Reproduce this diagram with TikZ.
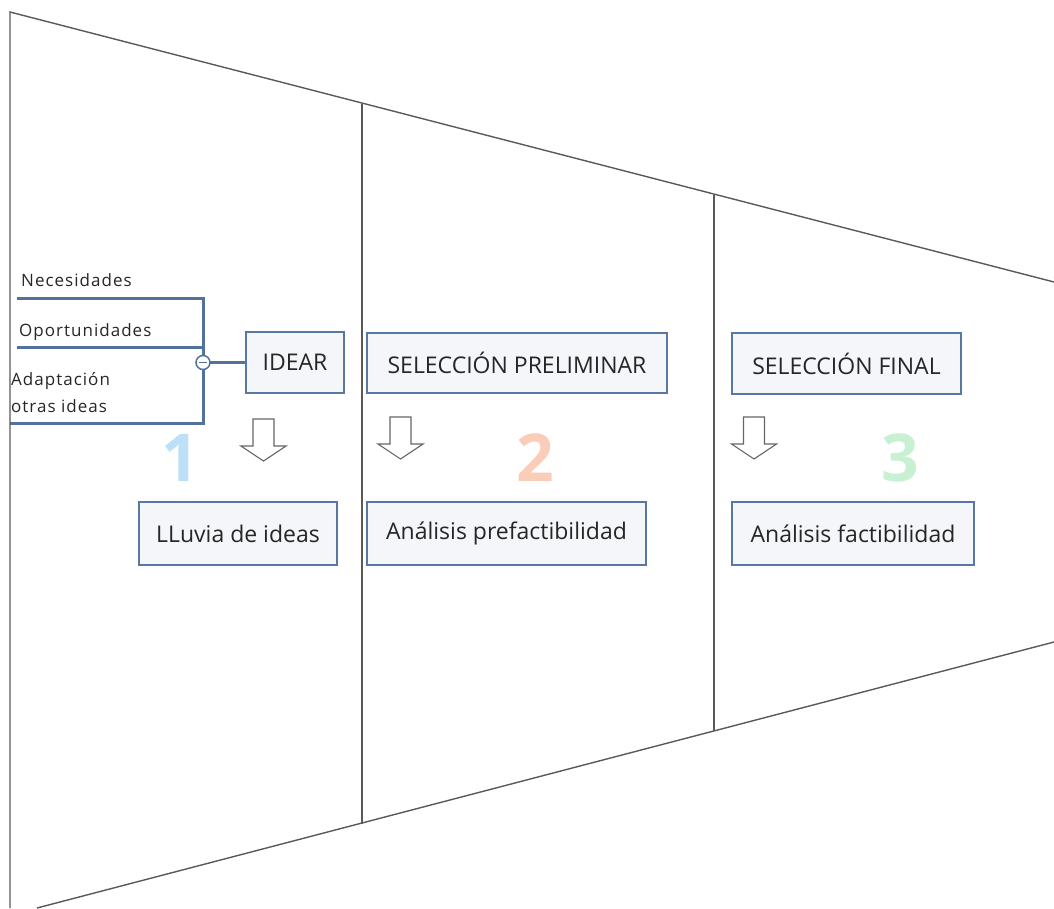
\documentclass[tikz,border=0pt]{standalone}
\usepackage{fontspec}
\setmainfont{Open Sans}
\usetikzlibrary{backgrounds}
\begin{document}
\begin{tikzpicture}[x=1pt,y=-1pt,
  funnel/.style={draw=black!65,line width=1.4pt},
  stagebox/.style={draw=boxblue,fill=boxfill,line width=2.2pt,text=black!85,
    font=\fontsize{23}{26}\selectfont,inner sep=0pt},
  branch/.style={draw=lineblue,line width=3pt},
  leaf/.style={anchor=base west,inner sep=0pt,text=black!85,
    font=\fontsize{17}{20}\selectfont\addfontfeature{LetterSpace=6}},
  bignum/.style={font=\fontsize{66}{70}\selectfont\bfseries,inner sep=0pt},
  downarrow/.pic={\draw[draw=black!60,fill=white,line width=1.1pt]
      (-10.5,0) -- (10.5,0) -- (10.5,27) -- (22.5,27) -- (0,42) -- (-22.5,27) -- (-10.5,27) -- cycle;}
]
\definecolor{boxblue}{HTML}{5878A3}
\definecolor{boxfill}{HTML}{F4F6F9}
\definecolor{lineblue}{HTML}{52719B}
\definecolor{numblue}{HTML}{BCE0F8}
\definecolor{numorange}{HTML}{F9CDB8}
\definecolor{numgreen}{HTML}{C8F0D2}
\useasboundingbox (0,0) rectangle (1054,908);

% funnel outline and stage dividers
\coordinate (tl) at (10,12);
\coordinate (tr) at (1054,282);
\coordinate (br) at (1054,642);
\coordinate (bl) at (37,908);
\draw[funnel] (10,908) -- (tl) -- (tr);
\draw[funnel] (bl) -- (br);
\draw[funnel] (362,103.5) -- (362,824);
\draw[funnel] (714,194.5) -- (714,731);

% stage boxes
\node[stagebox,minimum width=98pt,minimum height=61pt] (idear) at (295,362.5) {IDEAR};
\node[stagebox,minimum width=198pt,minimum height=63pt] (lluvia) at (238,533.5) {LLuvia de ideas};
\node[stagebox,minimum width=300pt,minimum height=60pt] (selpre) at (517,363) {SELECCIÓN PRELIMINAR};
\node[stagebox,minimum width=279pt,minimum height=63pt] (anapre) at (506.5,533.5) {Análisis prefactibilidad};
\node[stagebox,minimum width=229pt,minimum height=61pt] (selfin) at (846.5,363.5) {SELECCIÓN FINAL};
\node[stagebox,minimum width=242pt,minimum height=63pt] (anafin) at (853,533.5) {Análisis factibilidad};

% idea sources feeding IDEAR
\node[leaf] (nec) at (21,286) {Necesidades};
\node[leaf] (opo) at (19,336) {Oportunidades};
\node[leaf] (ada) at (11,385) {Adaptación};
\node[leaf] (otr) at (11,412) {otras ideas};
\coordinate (l1) at (17,298);
\coordinate (l2) at (17,347);
\coordinate (l3) at (10,423);
\coordinate (j1) at (203,298);
\coordinate (j2) at (203,347);
\coordinate (j3) at (203,423);
\node[circle,draw=lineblue,fill=white,line width=1.5pt,minimum size=14pt,inner sep=0pt] (hub) at (203,362.5) {};
\begin{scope}[on background layer]
  \draw[branch] (l1) -- (j1) -- (j3) -- (l3);
  \draw[branch] (l2) -- (j2);
  \draw[branch] (hub.center) -- (idear.west);
\end{scope}
\draw[lineblue,line width=1.6pt] ([xshift=-4pt]hub.center) -- ([xshift=4pt]hub.center);

% step arrows
\pic at (263.5,419) {downarrow};
\pic at (400.5,417) {downarrow};
\pic at (754,417) {downarrow};

% stage numbers
\node[bignum,text=numblue] (n1) at (180,458) {1};
\node[bignum,text=numorange] (n2) at (535,458) {2};
\node[bignum,text=numgreen] (n3) at (900,458) {3};
\end{tikzpicture}
\end{document}
